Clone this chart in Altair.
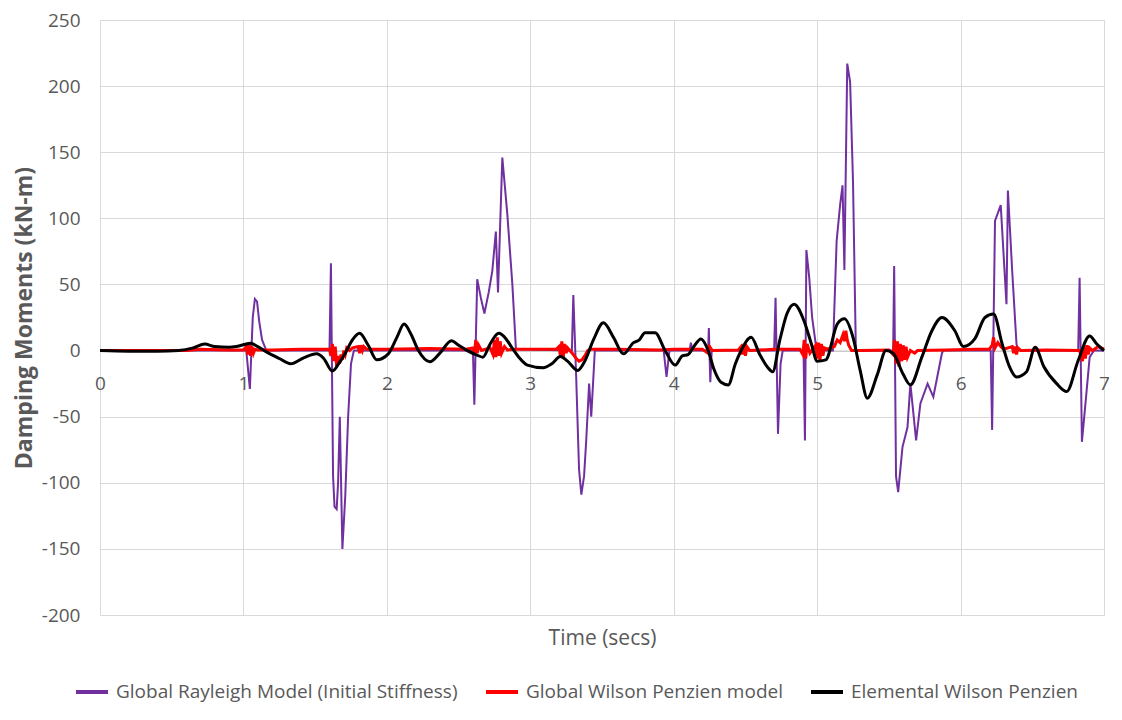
import altair as alt
import pandas as pd

# ---------------- data ----------------
series_names = [
    "Global Rayleigh Model (Initial Stiffness)",
    "Global Wilson Penzien model",
    "Elemental Wilson Penzien",
]
series_colors = ["#7030A0", "#FF0000", "#000000"]

x_ticks = [0, 1, 2, 3, 4, 5, 6, 7]
y_ticks = [-200, -150, -100, -50, 0, 50, 100, 150, 200, 250]

# Global Rayleigh Model (Initial Stiffness)
ray_t = [0, 1.02, 1.045, 1.065, 1.08, 1.095, 1.11, 1.13, 1.16,
         1.60, 1.61, 1.625, 1.635, 1.65, 1.66, 1.672, 1.68, 1.69, 1.71, 1.73, 1.75, 1.77,
         2.60, 2.61, 2.63, 2.655, 2.68, 2.71, 2.735, 2.76, 2.775, 2.805, 2.84, 2.875, 2.90,
         3.29, 3.30, 3.32, 3.34, 3.356, 3.375, 3.39, 3.41, 3.425, 3.45,
         3.93, 3.95, 3.97, 4.11, 4.12, 4.13,
         4.24, 4.245, 4.255, 4.265,
         4.70, 4.71, 4.727, 4.745, 4.76,
         4.905, 4.915, 4.925, 4.945, 4.965, 4.99, 5.0,
         5.11, 5.136, 5.16, 5.177, 5.19, 5.21, 5.23, 5.25, 5.27,
         5.53, 5.537, 5.55, 5.565, 5.595, 5.63, 5.65, 5.69, 5.72, 5.77, 5.81, 5.87, 5.88,
         6.21, 6.22, 6.24, 6.28, 6.32, 6.33, 6.36, 6.39, 6.40,
         6.82, 6.83, 6.846, 6.875, 6.90, 6.93, 7.0]
ray_v = [0, 0, -29, 25, 39, 37, 22, 8, 0,
         0, 66, -95, -118, -120, -100, -50, -95, -150, -110, -50, -10, 0,
         0, -41, 54, 40, 28, 44, 60, 90, 44, 146, 103, 50, 1,
         0, 42, -20, -90, -109, -95, -68, -25, -50, 0,
         0, -20, 0, 0, 6, 0,
         0, 17, -24, 0,
         0, 40, -63, -10, 0,
         0, -68, 76, 55, 25, 5, 0,
         0, 83, 110, 125, 61, 217, 203, 128, 0,
         0, 64, -95, -107, -73, -58, -25, -68, -40, -25, -35, -2, 0,
         0, -60, 98, 110, 35, 121, 60, 5, 0,
         0, 55, -69, -35, -5, 0, 0]

# Global Wilson Penzien model
gwp_t = [0, 0.6, 0.7, 0.9, 1.0,
         1.02, 1.03, 1.04, 1.05, 1.06, 1.07, 1.08, 1.1, 1.2, 1.4, 1.55,
         1.60, 1.61, 1.62, 1.63, 1.64, 1.65, 1.66, 1.67, 1.68, 1.69, 1.70, 1.71, 1.72, 1.74, 1.76,
         1.80, 1.81, 1.82, 1.83, 1.84, 1.86,
         2.0, 2.3, 2.55,
         2.60, 2.61, 2.62, 2.63, 2.64, 2.66,
         2.72, 2.74, 2.75, 2.76, 2.77, 2.78, 2.79, 2.80, 2.82, 2.84,
         2.9, 3.1, 3.18,
         3.20, 3.21, 3.22, 3.23, 3.24, 3.25, 3.26,
         3.30, 3.32, 3.34, 3.36, 3.38, 3.40, 3.42,
         3.6, 3.9, 4.0, 4.2,
         4.24, 4.25, 4.27,
         4.45, 4.47, 4.48, 4.49, 4.50, 4.51, 4.53,
         4.7, 4.88,
         4.90, 4.91, 4.92, 4.93, 4.95, 4.97,
         4.99, 5.0, 5.01, 5.02, 5.03, 5.04, 5.05, 5.07,
         5.12, 5.14, 5.16, 5.18, 5.19, 5.20, 5.21, 5.22, 5.24,
         5.3, 5.5,
         5.53, 5.54, 5.55, 5.56, 5.57, 5.58, 5.59, 5.60, 5.61, 5.62, 5.63, 5.65, 5.68, 5.7,
         5.9, 6.1, 6.2,
         6.22, 6.23, 6.24, 6.26, 6.28, 6.3,
         6.36, 6.37, 6.38, 6.39, 6.40, 6.42,
         6.6, 6.83,
         6.84, 6.85, 6.86, 6.87, 6.88, 6.89, 6.90, 6.92, 6.96, 7.0]
gwp_v = [0, 0, 1, 0.5, 0.5,
         3, -3, 5, -4, 3, -2, 1, 0.5, 0.5, 1, 1,
         1, -4, 5, -8, 3, -12, -4, -10, -3, -7, 0, -3, 2, 0, 2,
         3, -2, 4, 0, 3, 1,
         1, 1.5, 1,
         2, -3, 8, -2, 4, 0,
         2, -3, 8, -5, 10, -4, 7, -2, 3, 0.5,
         1, 1, 1,
         3, -4, 7, -5, 5, -2, 2,
         -3, -6, -8, -7, -4, 0, 1,
         1, 0.5, 1, 1,
         -2, 3, 0,
         0.5, 3, -3, 5, -4, 3, 0,
         1, 1,
         -3, 8, -6, 5, -2, 1,
         4, -6, 6, -7, 5, -4, 2, 1,
         3, 8, 6, 12, 7, 15, 8, 4, 0,
         0, 0.5,
         -3, 8, -10, 7, -12, 5, -8, 4, -7, 3, -5, 0, -2, 0,
         0.5, 1, 1,
         4, 10, 2, 6, 3, 1,
         3, -2, 3, -3, 2, 0,
         0.5, 0,
         -4, -8, 3, -6, 4, -3, 2, 0, 3, 1]

# Elemental Wilson Penzien
ewp_t = [0, 0.2, 0.4, 0.55, 0.65, 0.73, 0.8, 0.9, 0.95, 1.05, 1.1, 1.16, 1.25, 1.33,
         1.42, 1.51, 1.56, 1.62, 1.67, 1.71, 1.76, 1.81, 1.87, 1.93, 2.01, 2.07, 2.12,
         2.17, 2.22, 2.30, 2.37, 2.45, 2.50, 2.56, 2.62, 2.67, 2.72, 2.78, 2.83, 2.87,
         2.92, 2.98, 3.09, 3.15, 3.21, 3.26, 3.33, 3.38, 3.44, 3.51, 3.58, 3.65, 3.72,
         3.76, 3.80, 3.87, 3.94, 4.01, 4.06, 4.10, 4.14, 4.19, 4.24, 4.28, 4.33, 4.38,
         4.43, 4.47, 4.54, 4.60, 4.65, 4.69, 4.74, 4.79, 4.84, 4.91, 4.96, 5.00, 5.06,
         5.14, 5.19, 5.25, 5.30, 5.35, 5.42, 5.48, 5.53, 5.60, 5.65, 5.73, 5.80, 5.87,
         5.96, 6.02, 6.10, 6.17, 6.23, 6.29, 6.34, 6.39, 6.46, 6.52, 6.58, 6.67, 6.74,
         6.82, 6.90, 6.95, 7.0]
ewp_v = [0, -0.5, -0.5, 0, 2, 5, 3, 2.5, 3, 5.5, 3, -1, -6, -10,
         -5.5, -2.5, -6, -15.5, -9, -2, 8, 13, 4, -7, -2.5, 10, 20,
         12, 0, -8.5, -2, 7.5, 4, 0, -3, -5, 5, 13, 9, 2.5,
         -5, -11, -13, -10, -4.5, -8, -15, -8, 8, 21, 10, -2.5, 6,
         8, 13.5, 13.5, 0, -11, -4, -3, 3, 8.8, 0, -14, -24, -26,
         -10, 0, 10, -3, -12, -16, 8, 28, 35, 22, 5, -8, -7,
         20, 24, 10, -15, -36, -18, 0, -2, -18, -26, -5, 15, 25,
         15, 3, 9, 25, 27.6, 5, -12, -20, -16, 2.5, -12, -25, -31,
         -7.5, 11, 5, 0]


def frame(t, v, name):
    return pd.DataFrame({"t": t, "v": v, "series": name})


df_ray = frame(ray_t, ray_v, series_names[0])
df_gwp = frame(gwp_t, gwp_v, series_names[1])
df_ewp = frame(ewp_t, ewp_v, series_names[2])

FONT = "Open Sans"
GRAY = "#595959"

PLOT_W = 1004
PLOT_H = 595
Y_MIN, Y_MAX = -200, 250
zero_from_bottom = PLOT_H * (0 - Y_MIN) / (Y_MAX - Y_MIN)

x_enc = alt.X(
    "t:Q",
    scale=alt.Scale(domain=[0, 7], nice=False, zero=False),
    axis=alt.Axis(
        values=x_ticks,
        title="Time (secs)",
        offset=-zero_from_bottom,
        ticks=False,
        labelPadding=24,
        labelFlush=False,
        labelFontSize=19,
        labelColor=GRAY,
        labelFont=FONT,
        titleFont=FONT,
        titleFontSize=21,
        titleFontWeight="normal",
        titleColor=GRAY,
        titleY=288,
        titleBaseline="middle",
        domainColor="#bfbfbf",
        gridColor="#d9d9d9",
    ),
)

y_enc = alt.Y(
    "v:Q",
    scale=alt.Scale(domain=[Y_MIN, Y_MAX], nice=False),
    axis=alt.Axis(
        values=y_ticks,
        title="Damping Moments (kN-m)",
        ticks=False,
        domain=False,
        labelPadding=20,
        labelFontSize=19,
        labelColor=GRAY,
        labelFont=FONT,
        labelExpr="datum.value < 0 ? '-' + abs(datum.value) : '' + datum.value",
        titleFont=FONT,
        titleFontSize=23,
        titleFontWeight="bold",
        titleColor=GRAY,
        titleX=-76,
        titleBaseline="middle",
        gridColor="#d9d9d9",
    ),
)

color_enc = alt.Color(
    "series:N",
    scale=alt.Scale(domain=series_names, range=series_colors),
    sort=series_names,
    legend=alt.Legend(
        title=None,
        orient="none",
        legendX=-26,
        legendY=654,
        direction="horizontal",
        columns=3,
        symbolType="stroke",
        symbolSize=1024,
        symbolStrokeWidth=4,
        labelFontSize=19,
        labelFont=FONT,
        labelColor=GRAY,
        labelLimit=600,
        labelOffset=6,
        columnPadding=20,
    ),
)

ray = alt.Chart(df_ray).mark_line(strokeWidth=2).encode(
    x=x_enc, y=y_enc, color=color_enc, order="t:Q")
gwp = alt.Chart(df_gwp).mark_line(strokeWidth=3).encode(
    x=x_enc, y=y_enc, color=color_enc, order="t:Q")
ewp = alt.Chart(df_ewp).mark_line(strokeWidth=3, interpolate="monotone").encode(
    x=x_enc, y=y_enc, color=color_enc, order="t:Q")

chart = (
    alt.layer(ray, gwp, ewp)
    .properties(
        width=PLOT_W,
        height=PLOT_H,
        autosize=alt.AutoSizeParams(type="none"),
        padding={"left": 92, "top": 12, "right": 6, "bottom": 94},
    )
    .configure(font=FONT)
    .configure_view(stroke=None)
    .configure_axis(gridColor="#d9d9d9", gridWidth=1)
)

chart.save("out.html", embed_options={"renderer": "svg", "actions": False})
